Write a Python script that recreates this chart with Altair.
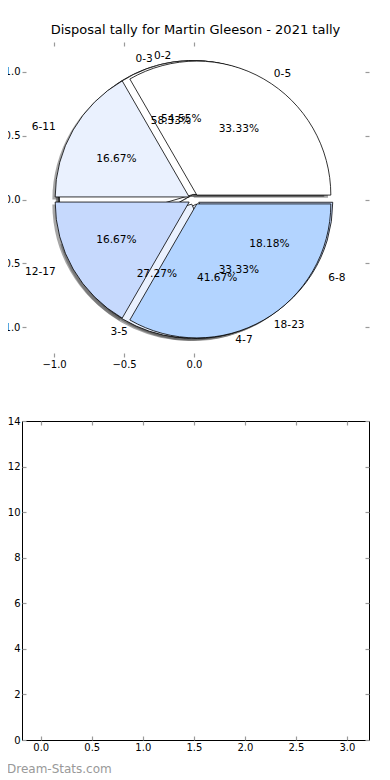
import math
import altair as alt
import pandas as pd

TITLE = "Disposal tally for Martin Gleeson - 2021 tally"
WATERMARK = "Dream-Stats.com"

# Three pies drawn on the same axes, in drawing order (first = lowest)
pie_order = ["pie_c", "pie_b", "pie_a"]
pie_c_labels = ["0-3", "4-7"]
pie_c_pct = [58.33, 41.67]
pie_b_labels = ["0-2", "3-5", "6-8"]
pie_b_pct = [54.55, 27.27, 18.18]
pie_a_labels = ["0-5", "6-11", "12-17", "18-23"]
pie_a_pct = [33.33, 16.67, 16.67, 33.33]

wedge_colors = ["#ffffff", "#eaf1fe", "#c6d9fd", "#b3d4ff"]

top_x_ticks = [-1.0, -0.5, 0.0]
top_y_ticks = [-1.0, -0.5, 0.0, 0.5, 1.0]
bottom_x_ticks = [0.0, 0.5, 1.0, 1.5, 2.0, 2.5, 3.0]
bottom_y_ticks = [0, 2, 4, 6, 8, 10, 12, 14]

# ---- table built from the lists ----
rows = []
for name, labels, pcts in [
    ("pie_c", pie_c_labels, pie_c_pct),
    ("pie_b", pie_b_labels, pie_b_pct),
    ("pie_a", pie_a_labels, pie_a_pct),
]:
    for i, (lab, p) in enumerate(zip(labels, pcts)):
        rows.append({"pie": name, "idx": i, "label": lab, "pct": p})
df = pd.DataFrame(rows)

EXPLODE = 0.04
SHADOW = 0.02
R_PX = 134
FONT = "DejaVu Sans"

xs = alt.Scale(domain=[-1.229, 1.25], nice=False, zero=False)
ys = alt.Scale(domain=[-1.235, 1.235], nice=False, zero=False)
theta_scale = alt.Scale(domain=[0, 100], range=[math.pi / 2, math.pi / 2 - 2 * math.pi])
color_scale = alt.Scale(domain=[0, 1, 2, 3], range=wedge_colors)

base = alt.Chart(df).transform_window(
    cum="sum(pct)", groupby=["pie"], sort=[alt.SortField("idx")], frame=[None, 0]
).transform_calculate(
    start="datum.cum - datum.pct",
    mid="(datum.cum - datum.pct / 2) / 100 * 2 * PI",
    cx=f"{EXPLODE} * cos(datum.mid)",
    cy=f"{EXPLODE} * sin(datum.mid)",
    sx=f"datum.cx - {SHADOW}",
    sy=f"datum.cy - {SHADOW}",
    lx="datum.cx + 1.1 * cos(datum.mid)",
    ly="datum.cy + 1.1 * sin(datum.mid)",
    px="datum.cx + 0.6 * cos(datum.mid)",
    py="datum.cy + 0.6 * sin(datum.mid)",
    pct_txt="format(datum.pct, '.2f') + '%'",
)

shadows = base.mark_arc(radius=R_PX, color="#4d4d4d", opacity=0.5).encode(
    x=alt.X("sx:Q", scale=xs, axis=None),
    y=alt.Y("sy:Q", scale=ys, axis=None),
    theta=alt.Theta("start:Q", scale=theta_scale, stack=None),
    theta2="cum:Q",
)


def pie_layer(name):
    return base.transform_filter(alt.datum.pie == name).mark_arc(
        radius=R_PX, stroke="black", strokeWidth=0.8
    ).encode(
        x=alt.X("cx:Q", scale=xs, axis=None),
        y=alt.Y("cy:Q", scale=ys, axis=None),
        theta=alt.Theta("start:Q", scale=theta_scale, stack=None),
        theta2="cum:Q",
        color=alt.Color("idx:O", scale=color_scale, legend=None),
    )


labels_left = base.transform_filter("cos(datum.mid) > 0").mark_text(
    align="left", baseline="middle", font=FONT, fontSize=10.6, color="black"
).encode(
    x=alt.X("lx:Q", scale=xs, axis=None),
    y=alt.Y("ly:Q", scale=ys, axis=None),
    text="label:N",
)
labels_right = base.transform_filter("cos(datum.mid) <= 0").mark_text(
    align="right", baseline="middle", font=FONT, fontSize=10.6, color="black"
).encode(
    x=alt.X("lx:Q", scale=xs, axis=None),
    y=alt.Y("ly:Q", scale=ys, axis=None),
    text="label:N",
)
pct_text = base.mark_text(
    align="center", baseline="middle", font=FONT, fontSize=10.6, color="black"
).encode(
    x=alt.X("px:Q", scale=xs, axis=None),
    y=alt.Y("py:Q", scale=ys, axis=None),
    text="pct_txt:N",
)

TICK = dict(offset=-4, tickSize=4, tickColor="#9a9a9a", tickWidth=1.2,
            domain=False, grid=False, title=None)
LAB = dict(labelFont=FONT, labelFontSize=10, labelColor="black", labelPadding=2)

axes_main = base.mark_point(opacity=0).encode(
    x=alt.X("cx:Q", scale=xs,
            axis=alt.Axis(orient="bottom", values=top_x_ticks, format=".1f", **TICK, **LAB)),
    y=alt.Y("cy:Q", scale=ys,
            axis=alt.Axis(orient="left", values=top_y_ticks, format=".1f", **TICK, **LAB)),
)
axes_twin = base.mark_point(opacity=0).encode(
    x=alt.X("cx:Q", scale=xs,
            axis=alt.Axis(orient="top", values=top_x_ticks, labels=False, **TICK)),
    y=alt.Y("cy:Q", scale=ys,
            axis=alt.Axis(orient="right", values=top_y_ticks, labels=False, **TICK)),
)

top = alt.layer(
    shadows,
    pie_layer("pie_c"),
    pie_layer("pie_b"),
    pie_layer("pie_a"),
    labels_left,
    labels_right,
    pct_text,
    axes_main,
    axes_twin,
).resolve_axis(x="independent", y="independent").properties(
    width=347,
    height=315,
    title=alt.Title(TITLE, font=FONT, fontSize=13, fontWeight="normal",
                    color="black", anchor="middle", offset=4),
)

# ---- bottom (empty) panel ----
bdf = pd.DataFrame({"x": bottom_x_ticks, "y": [0.0] * len(bottom_x_ticks)})
bxs = alt.Scale(domain=[-0.1835, 3.216], nice=False, zero=False)
bys = alt.Scale(domain=[0, 14], nice=False, zero=False)
bmain = alt.Chart(bdf).mark_point(opacity=0).encode(
    x=alt.X("x:Q", scale=bxs,
            axis=alt.Axis(orient="bottom", values=bottom_x_ticks, format=".1f", **TICK, **LAB)),
    y=alt.Y("y:Q", scale=bys,
            axis=alt.Axis(orient="left", values=bottom_y_ticks, format="d", **TICK, **LAB)),
)
btwin = alt.Chart(bdf).mark_point(opacity=0).encode(
    x=alt.X("x:Q", scale=bxs,
            axis=alt.Axis(orient="top", values=bottom_x_ticks, labels=False, **TICK)),
    y=alt.Y("y:Q", scale=bys,
            axis=alt.Axis(orient="right", values=bottom_y_ticks, labels=False, **TICK)),
)
bottom = alt.layer(bmain, btwin).resolve_axis(
    x="independent", y="independent"
).properties(
    width=347,
    height=319,
    view=alt.ViewBackground(stroke="black", strokeWidth=1),
    title=alt.Title(WATERMARK, orient="bottom", anchor="start", frame="group",
                    dx=-15, offset=12, font=FONT, fontSize=12, fontWeight="normal",
                    color="#999999"),
)

chart = alt.vconcat(top, bottom, spacing=46).properties(
    padding={"left": -13, "top": 16, "right": 0, "bottom": 0},
).configure_view(strokeWidth=0)

chart.save("out.html", embed_options={"renderer": "svg", "actions": False})
